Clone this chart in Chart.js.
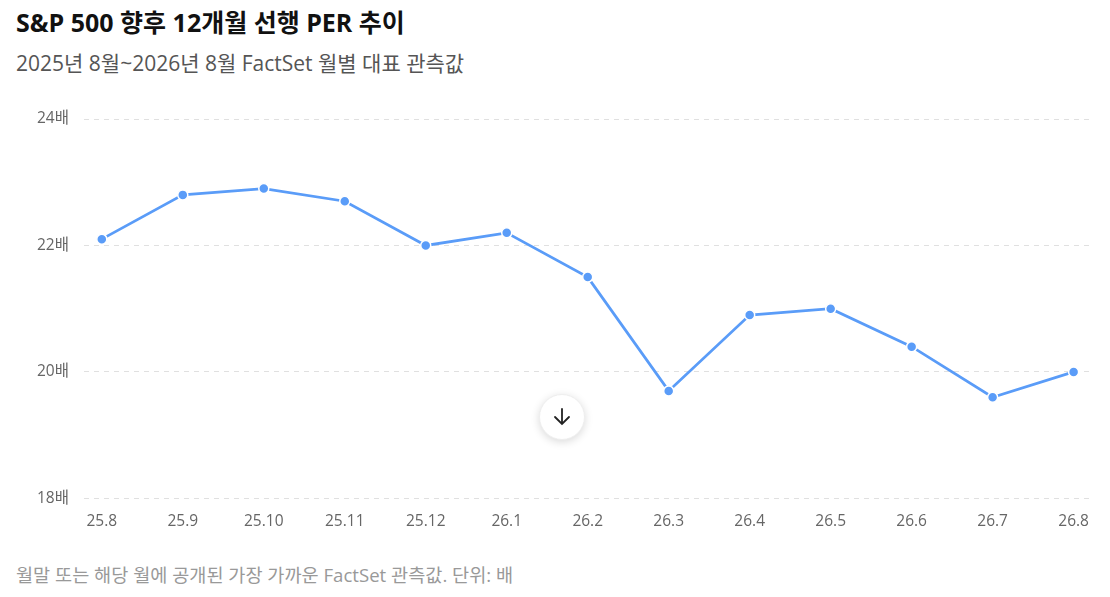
<!DOCTYPE html>
<html lang="ko">
<head>
<meta charset="utf-8">
<script src="https://cdn.jsdelivr.net/npm/chart.js@4.4.1/dist/chart.umd.min.js"></script>
<style>
  html, body { margin: 0; padding: 0; background: #fff; }
  body { width: 1110px; height: 597px; position: relative; overflow: hidden;
         font-family: "Open Sans", "Noto Sans CJK KR", sans-serif; }
  h1, .sub, .note { position: absolute; left: 16px; margin: 0; line-height: 1.2; white-space: nowrap; }
  h1 { top: 7px; font-size: 25px; font-weight: 700; color: #111; }
  .sub { top: 51px; font-size: 21px; color: #555; }
  .note { top: 564px; font-size: 18.6px; color: #999; }
  #wrap { position: absolute; left: 0; top: 90px; width: 1110px; height: 450px; }
  .btn { position: absolute; left: 539px; top: 394px; width: 46px; height: 46px; border-radius: 50%;
         background: #fff; box-shadow: 0 2px 8px rgba(0,0,0,0.15); border: 1px solid #eee; box-sizing: border-box; }
  .btn svg { position: absolute; left: 12px; top: 12px; }
</style>
</head>
<body>
<h1>S&amp;P 500 향후 12개월 선행 PER 추이</h1>
<div class="sub">2025년 8월~2026년 8월 FactSet 월별 대표 관측값</div>
<div id="wrap"><canvas id="chart"></canvas></div>
<div class="note">월말 또는 해당 월에 공개된 가장 가까운 FactSet 관측값. 단위: 배</div>
<div class="btn"><svg width="20" height="20" viewBox="0 0 20 20"><path d="M10 2 V17 M3 10 L10 17 L17 10" fill="none" stroke="#222" stroke-width="1.8" stroke-linecap="round"/></svg></div>
<script>
document.addEventListener("DOMContentLoaded", function () {
    // Month labels (yy.m)
    const months = ["25.8", "25.9", "25.10", "25.11", "25.12", "26.1", "26.2",
                    "26.3", "26.4", "26.5", "26.6", "26.7", "26.8"];
    // Forward 12M PER (배)
    const per = [22.1, 22.8, 22.9, 22.7, 22.0, 22.2, 21.5, 19.7, 20.9, 21.0, 20.4, 19.6, 20.0];
    // Y axis ticks
    const yTicks = [18, 20, 22, 24];

    const points = per.map((v, i) => ({ x: i, y: v }));
    const tickFont = { size: 15.5, family: "'Open Sans', 'Noto Sans CJK KR', sans-serif" };

    const ctx = document.getElementById("chart").getContext("2d");
    new Chart(ctx, {
        type: "line",
        data: {
            datasets: [
                {
                    data: points,
                    borderColor: "#5a9cf8",
                    backgroundColor: "#5a9cf8",
                    borderWidth: 2.75,
                    pointRadius: 5,
                    pointBorderColor: "#fff",
                    pointBorderWidth: 1.5,
                    tension: 0,
                    fill: false,
                },
            ],
        },
        options: {
            responsive: true,
            maintainAspectRatio: false,
            animation: false,
            layout: { padding: { left: 22, right: 21, top: 29, bottom: 3 } },
            plugins: { legend: { display: false }, tooltip: { enabled: false } },
            scales: {
                x: {
                    type: "linear",
                    min: -0.22,
                    max: 12.19,
                    afterBuildTicks: (scale) => {
                        scale.ticks = months.map((_, i) => ({ value: i }));
                    },
                    ticks: {
                        callback: (v) => months[v],
                        color: "#666",
                        font: tickFont,
                        padding: 6,
                        maxRotation: 0,
                        autoSkip: false,
                    },
                    grid: { display: false },
                    border: { display: false },
                },
                y: {
                    min: 18,
                    max: 24,
                    afterBuildTicks: (scale) => {
                        scale.ticks = yTicks.map((v) => ({ value: v }));
                    },
                    ticks: {
                        callback: (v) => v + "배",
                        color: "#666",
                        font: tickFont,
                        padding: 15,
                    },
                    grid: { color: "#e0e0e0", lineWidth: 1, drawTicks: false },
                    border: { display: false, dash: [5, 5] },
                },
            },
        },
    });
});
</script>
</body>
</html>
